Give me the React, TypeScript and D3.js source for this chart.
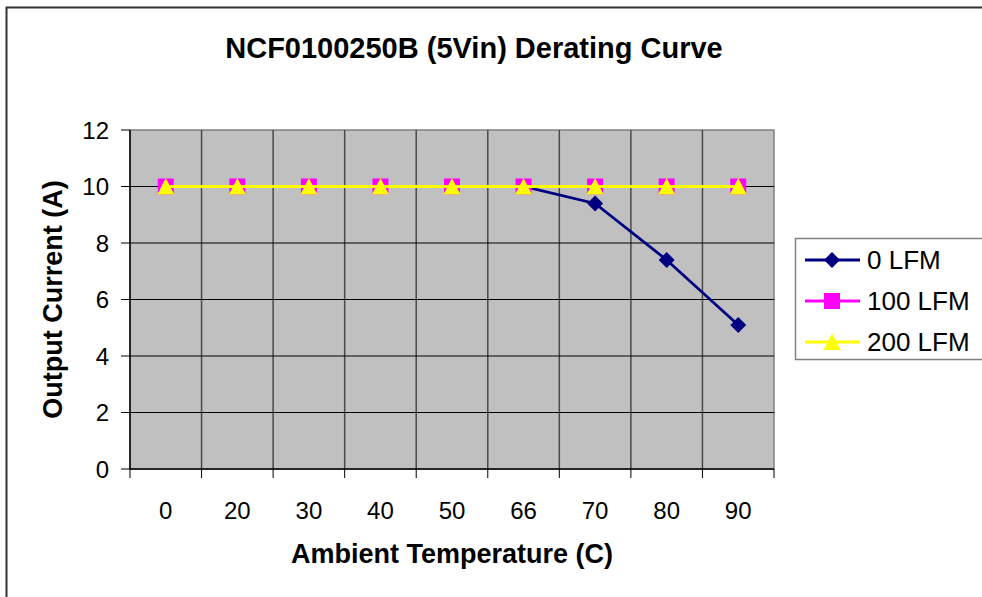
import React from "react";
import * as d3 from "d3";

const categories = ["0", "20", "30", "40", "50", "66", "70", "80", "90"];
const lfm0 = [10, 10, 10, 10, 10, 10, 9.4, 7.4, 5.1];
const lfm100 = [10, 10, 10, 10, 10, 10, 10, 10, 10];
const lfm200 = [10, 10, 10, 10, 10, 10, 10, 10, 10];
const yTicks = [0, 2, 4, 6, 8, 10, 12];
const seriesNames = ["0 LFM", "100 LFM", "200 LFM"];

const W = 982, H = 597;
const plot = { left: 130, right: 774, top: 130, bottom: 469 };
const font = "Arial, 'Liberation Sans', sans-serif";

export default function App() {
  const x = d3.scaleBand<string>().domain(categories).range([plot.left, plot.right]).padding(0);
  const y = d3.scaleLinear().domain([0, 12]).range([plot.bottom, plot.top]);
  const cx = (c: string) => (x(c) as number) + x.bandwidth() / 2;
  const line = d3.line<number>().x((_, i) => cx(categories[i])).y((d) => y(d));

  const series = [
    { name: seriesNames[0], data: lfm0, color: "#000080", marker: "diamond" },
    { name: seriesNames[1], data: lfm100, color: "#FF00FF", marker: "square" },
    { name: seriesNames[2], data: lfm200, color: "#FFFF00", marker: "triangle" },
  ];

  const marker = (type: string, px: number, py: number, color: string, key: any) => {
    if (type === "diamond") {
      const r = 8;
      return <path key={key} d={`M${px},${py - r}L${px + r},${py}L${px},${py + r}L${px - r},${py}Z`} fill={color} />;
    }
    if (type === "square") {
      const s = 8;
      return <rect key={key} x={px - s} y={py - s} width={2 * s} height={2 * s} fill={color} />;
    }
    const s = 8.5;
    return <path key={key} d={`M${px},${py - s}L${px + s},${py + 8}L${px - s},${py + 8}Z`} fill={color} />;
  };

  const bounds = categories.map((c) => x(c) as number).concat([plot.right]);

  return (
    <svg width={W} height={H} style={{ position: "absolute", left: 0, top: 0, background: "#fff" }}>
      <rect x={6.5} y={7.5} width={W + 10} height={H + 10} fill="#fff" stroke="#333" strokeWidth={2} />
      <text x={474} y={58} textAnchor="middle" fontFamily={font} fontWeight="bold" fontSize={29}>
        NCF0100250B (5Vin) Derating Curve
      </text>
      <rect x={plot.left} y={plot.top} width={plot.right - plot.left} height={plot.bottom - plot.top} fill="#C0C0C0" stroke="#808080" strokeWidth={1.5} />
      {bounds.slice(1, -1).map((b, i) => (
        <line key={"v" + i} x1={b} x2={b} y1={plot.top} y2={plot.bottom} stroke="#4a4a4a" strokeWidth={1.5} />
      ))}
      {yTicks.slice(1, -1).map((t) => (
        <line key={"h" + t} x1={plot.left} x2={plot.right} y1={y(t)} y2={y(t)} stroke="#000" strokeWidth={1} />
      ))}
      <line x1={plot.left} x2={plot.left} y1={plot.top} y2={plot.bottom} stroke="#000" strokeWidth={1.5} />
      <line x1={plot.left} x2={plot.right} y1={plot.bottom} y2={plot.bottom} stroke="#000" strokeWidth={1.5} />
      {yTicks.map((t) => (
        <g key={"yt" + t}>
          <line x1={plot.left - 9} x2={plot.left} y1={y(t)} y2={y(t)} stroke="#000" strokeWidth={1} />
          <text x={109} y={y(t) + 8.5} textAnchor="end" fontFamily={font} fontSize={24}>{t}</text>
        </g>
      ))}
      {bounds.map((b, i) => (
        <line key={"xt" + i} x1={b} x2={b} y1={plot.bottom} y2={plot.bottom + 9} stroke="#000" strokeWidth={1} />
      ))}
      {categories.map((c) => (
        <text key={"xl" + c} x={cx(c)} y={519} textAnchor="middle" fontFamily={font} fontSize={24}>{c}</text>
      ))}
      {series.map((s) => (
        <g key={s.name}>
          <path d={line(s.data) as string} fill="none" stroke={s.color} strokeWidth={2.8} />
          {s.data.map((d, i) => marker(s.marker, cx(categories[i]), y(d), s.color, i))}
        </g>
      ))}
      <text x={452} y={563} textAnchor="middle" fontFamily={font} fontWeight="bold" fontSize={27}>
        Ambient Temperature (C)
      </text>
      <text transform={`translate(62,${(plot.top + plot.bottom) / 2}) rotate(-90)`} textAnchor="middle" fontFamily={font} fontWeight="bold" fontSize={27}>
        Output Current (A)
      </text>
      <rect x={795.5} y={238.5} width={200} height={121} fill="#fff" stroke="#808080" strokeWidth={1.5} />
      {series.map((s, i) => {
        const ly = 260 + i * 41;
        return (
          <g key={"lg" + i}>
            <line x1={805} x2={860} y1={ly} y2={ly} stroke={s.color} strokeWidth={2.8} />
            {marker(s.marker, 832, ly, s.color, "m")}
            <text x={867} y={ly + 9} fontFamily={font} fontSize={26}>{s.name}</text>
          </g>
        );
      })}
    </svg>
  );
}
